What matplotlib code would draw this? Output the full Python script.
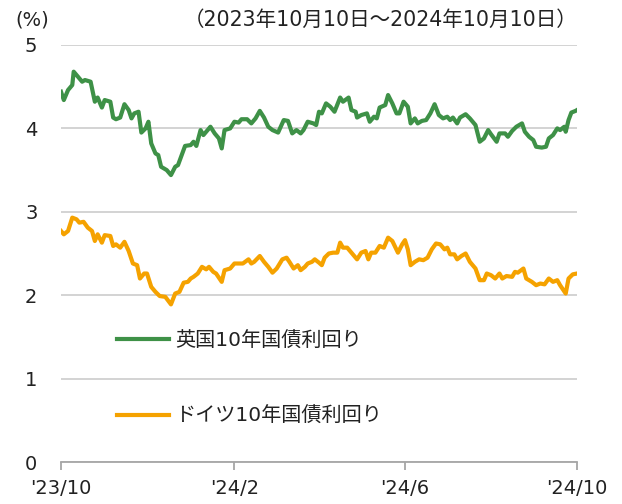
import matplotlib
matplotlib.use("Agg")
import matplotlib.pyplot as plt
import pandas as pd

# Verdana-like digits from DejaVu, CJK glyphs from Noto
plt.rcParams['font.family'] = ['DejaVu Sans', 'Noto Sans CJK JP']

# 英国10年国債利回り (%)
uk_dates = [
    "2023-10-10", "2023-10-12", "2023-10-15", "2023-10-18", "2023-10-19", "2023-10-22",
    "2023-10-25", "2023-10-27", "2023-10-31", "2023-11-03", "2023-11-05", "2023-11-08",
    "2023-11-10", "2023-11-14", "2023-11-16", "2023-11-18", "2023-11-21", "2023-11-24",
    "2023-11-27", "2023-11-29", "2023-12-01", "2023-12-04", "2023-12-06", "2023-12-09",
    "2023-12-11", "2023-12-13", "2023-12-16", "2023-12-18", "2023-12-20", "2023-12-24",
    "2023-12-27", "2023-12-30", "2024-01-01", "2024-01-04", "2024-01-06", "2024-01-10",
    "2024-01-12", "2024-01-14", "2024-01-17", "2024-01-19", "2024-01-24", "2024-01-27",
    "2024-01-30", "2024-02-01", "2024-02-03", "2024-02-07", "2024-02-10", "2024-02-13",
    "2024-02-15", "2024-02-19", "2024-02-22", "2024-02-25", "2024-02-28", "2024-03-02",
    "2024-03-05", "2024-03-08", "2024-03-12", "2024-03-16", "2024-03-19", "2024-03-22",
    "2024-03-25", "2024-03-28", "2024-03-30", "2024-04-02", "2024-04-06", "2024-04-08",
    "2024-04-10", "2024-04-12", "2024-04-15", "2024-04-18", "2024-04-21", "2024-04-25",
    "2024-04-27", "2024-05-01", "2024-05-03", "2024-05-06", "2024-05-07", "2024-05-10",
    "2024-05-14", "2024-05-16", "2024-05-19", "2024-05-21", "2024-05-23", "2024-05-27",
    "2024-05-29", "2024-06-01", "2024-06-04", "2024-06-06", "2024-06-09", "2024-06-12",
    "2024-06-14", "2024-06-17", "2024-06-19", "2024-06-22", "2024-06-25", "2024-06-28",
    "2024-07-01", "2024-07-04", "2024-07-07", "2024-07-10", "2024-07-12", "2024-07-14",
    "2024-07-17", "2024-07-19", "2024-07-23", "2024-07-26", "2024-07-30", "2024-08-02",
    "2024-08-05", "2024-08-08", "2024-08-10", "2024-08-14", "2024-08-16", "2024-08-20",
    "2024-08-22", "2024-08-25", "2024-08-28", "2024-09-01", "2024-09-03", "2024-09-06",
    "2024-09-09", "2024-09-11", "2024-09-15", "2024-09-18", "2024-09-20", "2024-09-23",
    "2024-09-26", "2024-09-28", "2024-10-01", "2024-10-02", "2024-10-04", "2024-10-06",
    "2024-10-09", "2024-10-10",
]
uk_yield = [
    4.44, 4.34, 4.46, 4.52, 4.68, 4.62,
    4.56, 4.58, 4.56, 4.32, 4.37, 4.25,
    4.34, 4.32, 4.13, 4.11, 4.13, 4.29,
    4.22, 4.12, 4.18, 4.20, 3.95, 4.00,
    4.08, 3.82, 3.70, 3.68, 3.54, 3.50,
    3.44, 3.54, 3.56, 3.70, 3.79, 3.80,
    3.84, 3.79, 3.98, 3.92, 4.02, 3.94,
    3.88, 3.76, 3.98, 4.00, 4.08, 4.07,
    4.11, 4.11, 4.06, 4.12, 4.21, 4.13,
    4.02, 3.98, 3.95, 4.10, 4.09, 3.94,
    3.98, 3.94, 3.98, 4.08, 4.06, 4.04,
    4.20, 4.18, 4.30, 4.26, 4.20, 4.37,
    4.32, 4.37, 4.22, 4.20, 4.13, 4.16,
    4.18, 4.08, 4.14, 4.12, 4.25, 4.28,
    4.40, 4.30, 4.18, 4.18, 4.32, 4.26,
    4.06, 4.12, 4.06, 4.09, 4.10, 4.18,
    4.29, 4.16, 4.12, 4.14, 4.10, 4.13,
    4.06, 4.13, 4.17, 4.12, 4.04, 3.84,
    3.88, 3.98, 3.93, 3.84, 3.94, 3.94,
    3.90, 3.97, 4.02, 4.06, 3.96, 3.90,
    3.86, 3.78, 3.77, 3.78, 3.88, 3.92,
    4.00, 3.98, 4.02, 3.96, 4.10, 4.19,
    4.21, 4.22,
]

# ドイツ10年国債利回り (%)
de_dates = [
    "2023-10-10", "2023-10-12", "2023-10-15", "2023-10-18", "2023-10-21", "2023-10-23",
    "2023-10-26", "2023-10-29", "2023-11-01", "2023-11-03", "2023-11-05", "2023-11-08",
    "2023-11-10", "2023-11-14", "2023-11-16", "2023-11-18", "2023-11-21", "2023-11-24",
    "2023-11-27", "2023-11-30", "2023-12-03", "2023-12-05", "2023-12-08", "2023-12-10",
    "2023-12-13", "2023-12-16", "2023-12-19", "2023-12-23", "2023-12-27", "2023-12-30",
    "2024-01-02", "2024-01-05", "2024-01-08", "2024-01-10", "2024-01-12", "2024-01-15",
    "2024-01-18", "2024-01-21", "2024-01-23", "2024-01-26", "2024-01-28", "2024-02-01",
    "2024-02-03", "2024-02-07", "2024-02-10", "2024-02-13", "2024-02-16", "2024-02-20",
    "2024-02-22", "2024-02-24", "2024-02-28", "2024-03-02", "2024-03-05", "2024-03-08",
    "2024-03-11", "2024-03-15", "2024-03-18", "2024-03-20", "2024-03-23", "2024-03-26",
    "2024-03-28", "2024-03-31", "2024-04-02", "2024-04-05", "2024-04-07", "2024-04-10",
    "2024-04-12", "2024-04-14", "2024-04-17", "2024-04-20", "2024-04-23", "2024-04-25",
    "2024-04-27", "2024-04-30", "2024-05-03", "2024-05-07", "2024-05-10", "2024-05-13",
    "2024-05-15", "2024-05-17", "2024-05-20", "2024-05-23", "2024-05-26", "2024-05-29",
    "2024-06-01", "2024-06-05", "2024-06-08", "2024-06-10", "2024-06-12", "2024-06-14",
    "2024-06-17", "2024-06-20", "2024-06-23", "2024-06-26", "2024-06-29", "2024-07-02",
    "2024-07-05", "2024-07-08", "2024-07-10", "2024-07-12", "2024-07-15", "2024-07-17",
    "2024-07-20", "2024-07-23", "2024-07-26", "2024-07-30", "2024-08-02", "2024-08-05",
    "2024-08-07", "2024-08-10", "2024-08-13", "2024-08-16", "2024-08-18", "2024-08-21",
    "2024-08-25", "2024-08-27", "2024-08-29", "2024-09-02", "2024-09-04", "2024-09-08",
    "2024-09-11", "2024-09-14", "2024-09-17", "2024-09-20", "2024-09-23", "2024-09-26",
    "2024-09-28", "2024-10-02", "2024-10-04", "2024-10-07", "2024-10-10",
]
de_yield = [
    2.77, 2.73, 2.77, 2.93, 2.91, 2.87,
    2.88, 2.81, 2.77, 2.65, 2.73, 2.63,
    2.72, 2.71, 2.59, 2.61, 2.57, 2.64,
    2.53, 2.38, 2.36, 2.20, 2.26, 2.26,
    2.10, 2.04, 1.99, 1.98, 1.89, 2.02,
    2.04, 2.15, 2.16, 2.20, 2.22, 2.26,
    2.34, 2.31, 2.34, 2.28, 2.26, 2.16,
    2.30, 2.32, 2.38, 2.38, 2.38, 2.43,
    2.38, 2.40, 2.47, 2.40, 2.34, 2.27,
    2.32, 2.43, 2.45, 2.40, 2.32, 2.36,
    2.30, 2.34, 2.38, 2.40, 2.43, 2.39,
    2.36, 2.45, 2.50, 2.51, 2.51, 2.63,
    2.57, 2.57, 2.51, 2.43, 2.51, 2.53,
    2.43, 2.51, 2.51, 2.59, 2.57, 2.69,
    2.65, 2.51, 2.61, 2.66, 2.55, 2.36,
    2.40, 2.43, 2.42, 2.45, 2.55, 2.62,
    2.61, 2.55, 2.57, 2.49, 2.49, 2.43,
    2.47, 2.50, 2.40, 2.32, 2.18, 2.18,
    2.26, 2.24, 2.20, 2.26, 2.20, 2.23,
    2.22, 2.28, 2.27, 2.32, 2.20, 2.16,
    2.12, 2.14, 2.13, 2.20, 2.16, 2.18,
    2.12, 2.02, 2.20, 2.25, 2.26,
]

tick_dates = ["2023-10-10", "2024-02-10", "2024-06-10", "2024-10-10"]
tick_labels = ["'23/10", "'24/2", "'24/6", "'24/10"]

green = "#3e9147"
orange = "#f5a200"
txt = "#222222"

fig = plt.figure(figsize=(6.22, 5.04), dpi=100)
ax = fig.add_axes([61 / 622, 42 / 504, 516 / 622, 417 / 504])

ax.plot(pd.to_datetime(uk_dates), uk_yield, color=green, lw=3,
        solid_joinstyle='round', label="英国10年国債利回り")
ax.plot(pd.to_datetime(de_dates), de_yield, color=orange, lw=3,
        solid_joinstyle='round', label="ドイツ10年国債利回り")

ax.set_ylim(0, 5)
ax.set_yticks([0, 1, 2, 3, 4, 5])
ax.set_xlim(pd.Timestamp(tick_dates[0]), pd.Timestamp(tick_dates[-1]))
ax.set_xticks(pd.to_datetime(tick_dates))
ax.set_xticklabels(tick_labels)

ax.grid(axis='y', color='#d0d0d0', lw=1.3)
ax.set_axisbelow(True)
for s in ['top', 'right', 'left']:
    ax.spines[s].set_visible(False)
ax.spines['bottom'].set_color('#a6a6a6')
ax.spines['bottom'].set_linewidth(1.3)
ax.tick_params(axis='y', length=0, pad=17, labelsize=14, labelcolor=txt)
ax.tick_params(axis='x', length=6, width=1.3, color='#a6a6a6', pad=6,
               labelsize=14, labelcolor=txt)

ax.legend(loc='center left', bbox_to_anchor=(0.1085, 0.2), frameon=False,
          fontsize=14.5, handlelength=2.6, handletextpad=0.3, labelspacing=2.8,
          borderpad=0, borderaxespad=0, labelcolor=txt)

fig.text(15 / 622, 1 - 20 / 504, "(%)", fontsize=14, va='center', color=txt)
fig.text(577 / 622, 1 - 20 / 504, "（2023年10月10日～2024年10月10日）",
         fontsize=14.8, ha='right', va='center', color=txt)

fig.savefig("out.png", dpi=100)
